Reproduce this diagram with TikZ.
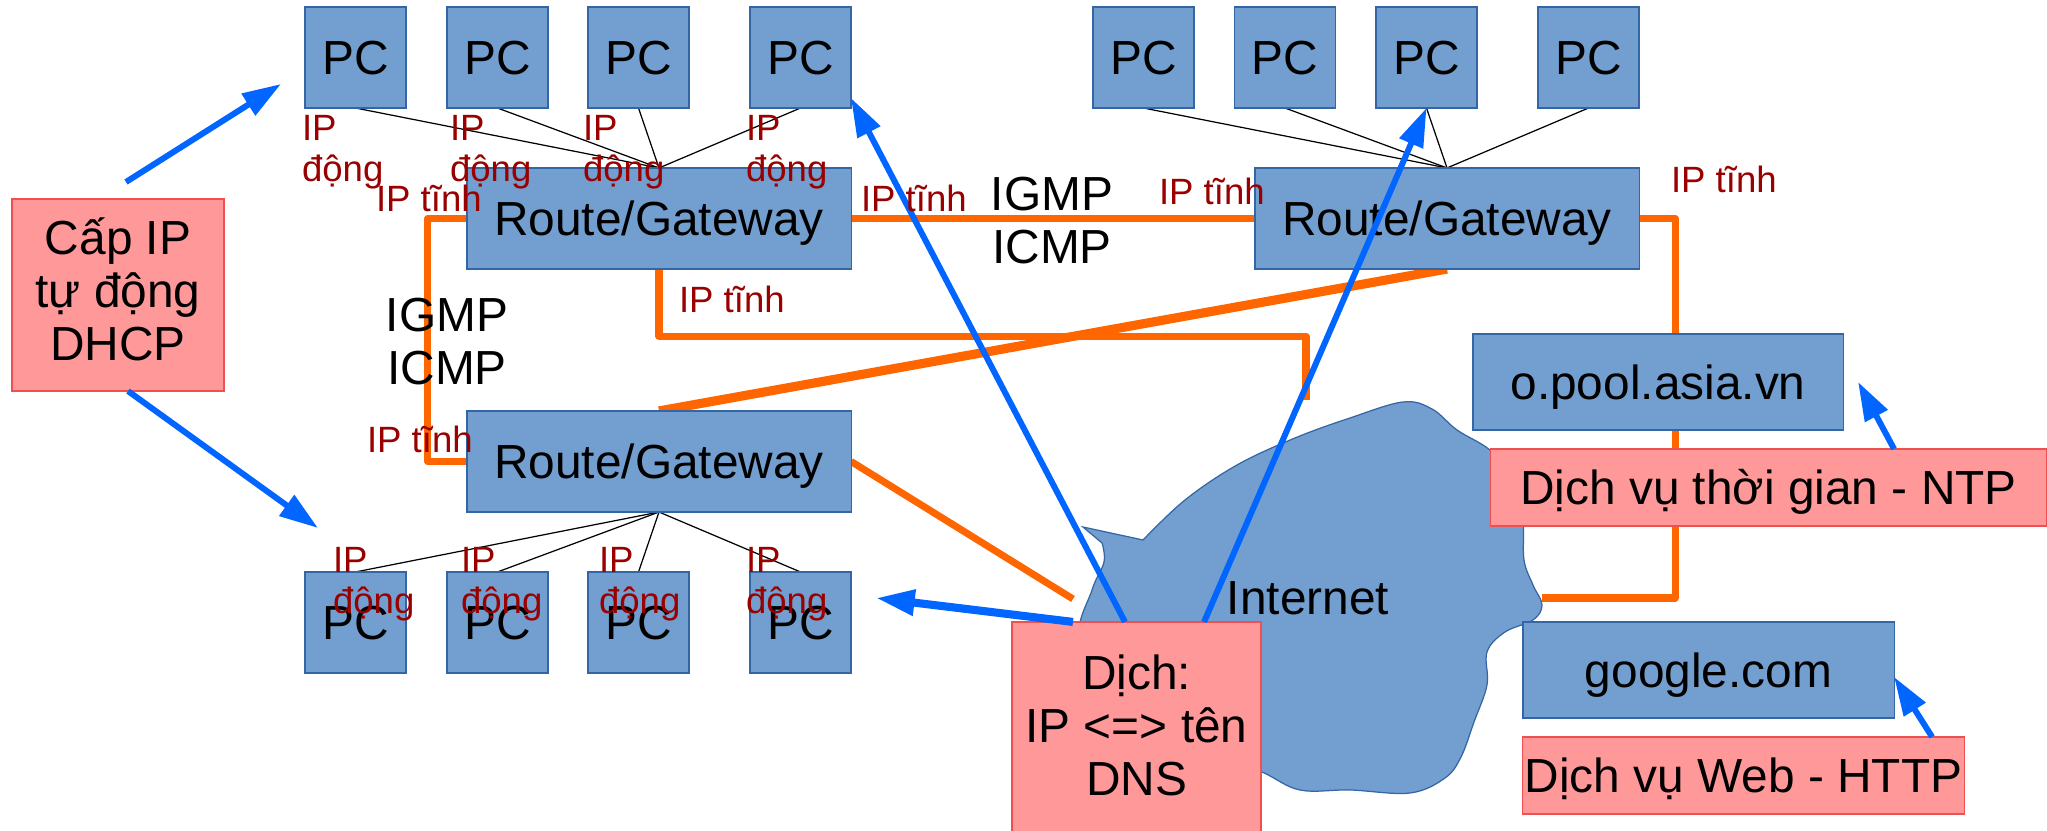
\documentclass[tikz,border=0pt]{standalone}
\usepackage{fontspec}
\setmainfont{Liberation Sans}
\usetikzlibrary{arrows.meta}

\definecolor{boxblue}{HTML}{729FCF}
\definecolor{boxline}{HTML}{3465A4}
\definecolor{pinkfill}{HTML}{FF9999}
\definecolor{pinkline}{HTML}{F05050}
\definecolor{linkorange}{HTML}{FF6600}
\definecolor{arrowblue}{HTML}{0066FF}
\definecolor{labelred}{HTML}{990000}

\newcommand\bigfs{\fontsize{13.6pt}{15.1pt}\selectfont}
\newcommand\smallfs{\fontsize{10.4pt}{11.7pt}\selectfont}

\pgfdeclarelayer{background}
\pgfsetlayers{background,main}

\tikzset{
  device/.style={draw=boxline, fill=boxblue, line width=0.35pt, font=\bigfs,
    text height=0.34cm, text depth=0pt},
  pcbox/.style={device, minimum width=1.01cm, minimum height=1.01cm},
  router/.style={device, minimum width=3.84cm, minimum height=1.01cm},
  service/.style={draw=pinkline, fill=pinkfill, line width=0.35pt, font=\bigfs,
    text height=0.34cm, text depth=0pt},
  infobox/.style={draw=pinkline, fill=pinkfill, line width=0.35pt, font=\bigfs, align=center},
  link/.style={draw=linkorange, line width=2pt, line join=round},
  wire/.style={draw=black, line width=0.35pt},
  query/.style={draw=arrowblue, line width=1.7pt, -{Triangle[length=11pt,width=7pt]}},
  iplabel/.style={text=labelred, font=\smallfs, align=left},
  proto/.style={font=\bigfs, align=center},
}

\begin{document}
\begin{tikzpicture}[x=0.01cm, y=-0.01cm, every node/.style={inner sep=0pt, outer sep=0pt}]
\useasboundingbox (0,0) rectangle (2047,831);

% upper left LAN
\node[pcbox] (pc1) at (355.5,57.5) {PC};
\node[pcbox] (pc2) at (497.5,57.5) {PC};
\node[pcbox] (pc3) at (638.5,57.5) {PC};
\node[pcbox] (pc4) at (800.5,57.5) {PC};
\node[router] (r1) at (659,218.5) {Route/Gateway};

% upper right LAN
\node[pcbox] (pc5) at (1143.5,57.5) {PC};
\node[pcbox] (pc6) at (1285,57.5) {PC};
\node[pcbox] (pc7) at (1426.5,57.5) {PC};
\node[pcbox] (pc8) at (1588.5,57.5) {PC};
\node[router] (r2) at (1447,218.5) {Route/Gateway};

% lower LAN
\node[router] (r3) at (659,461.5) {Route/Gateway};
\node[pcbox] (pc9) at (355.5,622.5) {PC};
\node[pcbox] (pc10) at (497.5,622.5) {PC};
\node[pcbox] (pc11) at (638.5,622.5) {PC};
\node[pcbox] (pc12) at (800.5,622.5) {PC};

% servers and services
\node[device, minimum width=3.70cm, minimum height=0.96cm] (pool) at (1658,382) {o.pool.asia.vn};
\node[service, minimum width=5.55cm, minimum height=0.77cm] (ntp) at (1768.5,487.5) {Dịch vụ thời gian - NTP};
\node[device, minimum width=3.71cm, minimum height=0.96cm] (google) at (1708.5,670) {google.com};
\node[service, minimum width=4.41cm, minimum height=0.77cm] (http) at (1743.5,775.5) {Dịch vụ Web - HTTP};
\node[infobox, minimum width=2.12cm, minimum height=1.92cm, text depth=0.11cm] (dhcp) at (118,295) {Cấp IP\\tự động\\DHCP};
\node[infobox, minimum width=2.49cm, minimum height=2.28cm, text depth=0.21cm] (dns) at (1136.5,736) {Dịch:\\IP <=> tên\\DNS};

\coordinate (gwDrop) at (1306,400);
\coordinate (poolDrop) at (1542,598);
\coordinate (gwLink) at (1073,599);

\begin{pgfonlayer}{background}
  \fill[white] (0,0) rectangle (2047,831);
  % Internet cloud
  \draw[fill=boxblue, draw=boxline, line width=0.35pt]
    (1083,527) -- plot[smooth, tension=0.6] coordinates {
      (1143,540) (1185,500) (1237,465) (1295,438) (1350,418) (1403,402)
      (1432,409) (1457,430) (1490,450) (1515,478) (1523,520) (1524,560)
      (1533,585) (1542,605) (1533,620) (1505,632) (1487,652) (1487,685)
      (1474,722) (1461,757) (1445,778) (1410,793) (1350,790) (1300,790)
      (1262,772) (1200,745) (1120,700) (1080,640) (1092,590) (1104,562)
      (1102,543)} -- cycle;
  % routed links
  \draw[link] (r1.west) -- ++(-39,0) |- (r3.west);
  \draw[link] (r1.east) -- (r2.west);
  \draw[link] (r1.south) -- ++(0,67) -| (gwDrop);
  \draw[link, line width=2.6pt] (r2.south) -- (r3.north);
  \draw[link] (r2.east) -| ([xshift=0.17cm]pool.north);
  \draw[link] ([xshift=0.17cm]pool.south) |- (poolDrop);
  \draw[link] (r3.east) -- (gwLink);
  % LAN cabling
  \foreach \p in {pc1,pc2,pc3,pc4} \draw[wire] (\p.south) -- (r1.north);
  \foreach \p in {pc5,pc6,pc7,pc8} \draw[wire] (\p.south) -- (r2.north);
  \foreach \p in {pc9,pc10,pc11,pc12} \draw[wire] (\p.north) -- (r3.south);
\end{pgfonlayer}

% service arrows
\coordinate (dhcpUpTail) at (126,182);
\coordinate (dhcpUpTip) at (281,84);
\coordinate (dhcpDownTip) at (318,528);
\coordinate (dnsLeftTip) at (876,598);
\draw[query] (dhcpUpTail) -- (dhcpUpTip);
\draw[query] ([xshift=0.1cm]dhcp.south) -- (dhcpDownTip);
\draw[query] ([xshift=-0.115cm]dns.north) -- ([yshift=-0.405cm]pc4.east);
\draw[query] ([xshift=0.675cm]dns.north) -- (pc7.south);
\draw[query, line width=2.3pt] ([xshift=-0.635cm]dns.north) -- (dnsLeftTip);
\draw[query] ([xshift=1.255cm]ntp.north) -- ([xshift=0.15cm]pool.east);
\draw[query] ([xshift=1.885cm]http.north) -- ([yshift=-0.07cm]google.east);

% address labels
\node[iplabel, anchor=north west] (dyn1) at (302,115) {IP\\động};
\node[iplabel, anchor=north west] (dyn2) at (450,115) {IP\\động};
\node[iplabel, anchor=north west] (dyn3) at (583,115) {IP\\động};
\node[iplabel, anchor=north west] (dyn4) at (746,115) {IP\\động};
\node[iplabel, anchor=north west] (dyn9) at (333,547) {IP\\động};
\node[iplabel, anchor=north west] (dyn10) at (461,547) {IP\\động};
\node[iplabel, anchor=north west] (dyn11) at (599,547) {IP\\động};
\node[iplabel, anchor=north west] (dyn12) at (746,547) {IP\\động};

\node[iplabel, anchor=base west] (st1) at (376,212) {IP tĩnh};
\node[iplabel, anchor=base west] (st2) at (861,212) {IP tĩnh};
\node[iplabel, anchor=base west] (st3) at (1159,205) {IP tĩnh};
\node[iplabel, anchor=base west] (st4) at (1671,193) {IP tĩnh};
\node[iplabel, anchor=base west] (st5) at (679,313) {IP tĩnh};
\node[iplabel, anchor=base west] (st6) at (367,453) {IP tĩnh};

\node[proto, anchor=north] (proto1) at (447,298) {IGMP\\ICMP};
\node[proto, anchor=north] (proto2) at (1052,177) {IGMP\\ICMP};
\node[font=\bigfs, anchor=base] (inet) at (1308,615) {Internet};
\end{tikzpicture}
\end{document}
